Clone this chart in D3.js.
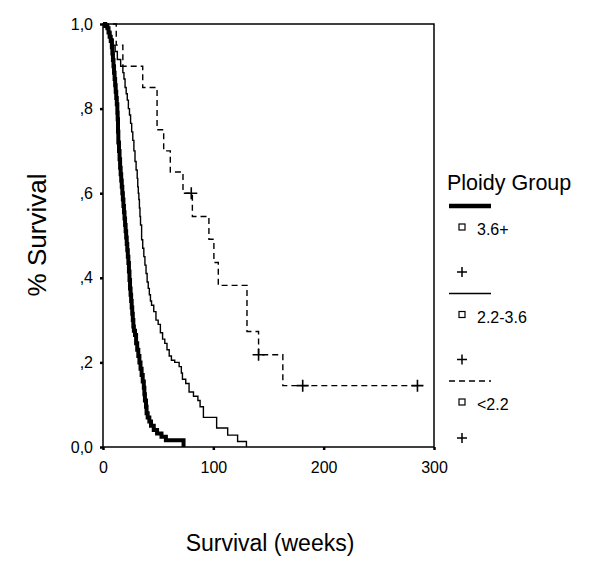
<!DOCTYPE html>
<html>
<head>
<meta charset="utf-8">
<script src="https://cdn.jsdelivr.net/npm/d3@7"></script>
<style>
  body { margin: 0; background: #fff; }
  svg { font-family: "Liberation Sans", Arial, sans-serif; }
</style>
</head>
<body>
<div id="vis"></div>
<script>
// Kaplan-Meier curves: step times (weeks) and survival after each step
const highTimes = [2, 4, 5, 6, 7, 8, 8.5, 9, 9.5, 10, 10.5, 11, 11.5, 12, 12.5, 13, 13.3, 13.6, 13.9, 14.5, 15, 15.5, 16, 16.5, 17, 17.5, 18, 18.5, 19, 19.5, 20, 20.5, 21, 21.5, 22, 22.5, 23, 23.5, 24, 24.5, 25, 25.5, 26, 26.5, 27, 27.5, 28, 29, 30, 31, 32, 33, 34, 35, 36, 37, 37.5, 38, 39, 39.5, 40.5, 42, 43.5, 46, 49, 53, 57, 73];
const highSurv  = [0.995, 0.99, 0.98, 0.97, 0.96, 0.945, 0.93, 0.915, 0.90, 0.885, 0.87, 0.855, 0.84, 0.825, 0.81, 0.79, 0.775, 0.745, 0.72, 0.70, 0.68, 0.66, 0.645, 0.63, 0.615, 0.60, 0.585, 0.57, 0.555, 0.54, 0.525, 0.51, 0.495, 0.48, 0.465, 0.45, 0.435, 0.415, 0.395, 0.375, 0.36, 0.345, 0.33, 0.315, 0.30, 0.285, 0.275, 0.265, 0.245, 0.23, 0.215, 0.20, 0.185, 0.17, 0.155, 0.14, 0.125, 0.11, 0.095, 0.08, 0.07, 0.06, 0.05, 0.04, 0.032, 0.024, 0.016, 0];

const midTimes = [3, 5, 7, 9, 11, 13, 16, 18, 19, 20, 21, 22, 23, 24, 25, 26, 27, 28, 29, 30, 31, 31.5, 32, 32.5, 33, 33.5, 34, 35, 36, 37, 38, 39, 40, 41, 42, 43, 44, 46, 48, 50, 52, 54, 56, 58, 60, 62, 65, 69, 71, 72, 75, 78, 82, 86, 88, 91, 103, 113, 122, 130];
const midSurv  = [0.99, 0.98, 0.965, 0.95, 0.935, 0.916, 0.90, 0.885, 0.87, 0.85, 0.835, 0.82, 0.80, 0.785, 0.765, 0.745, 0.725, 0.70, 0.675, 0.655, 0.635, 0.615, 0.60, 0.585, 0.565, 0.545, 0.525, 0.49, 0.47, 0.45, 0.43, 0.41, 0.39, 0.375, 0.36, 0.345, 0.335, 0.32, 0.30, 0.29, 0.27, 0.255, 0.245, 0.23, 0.215, 0.205, 0.20, 0.19, 0.175, 0.16, 0.15, 0.13, 0.12, 0.11, 0.095, 0.07, 0.045, 0.028, 0.013, 0];

const lowTimes = [12, 18, 36, 49, 55, 61, 72.5, 81, 96, 100.5, 104.5, 130.5, 141, 163, 285];
const lowSurv  = [0.95, 0.90, 0.85, 0.75, 0.70, 0.65, 0.60, 0.545, 0.491, 0.436, 0.382, 0.273, 0.218, 0.145, 0.145];
const lowCensorTimes = [80, 141, 181, 285];
const lowCensorSurv  = [0.60, 0.218, 0.145, 0.145];

const groupNames = ["3.6+", "2.2-3.6", "<2.2"];
const xTicks = [0, 100, 200, 300];
const yTicks = [0, 0.2, 0.4, 0.6, 0.8, 1.0];
const yTickLabels = ["0,0", ",2", ",4", ",6", ",8", "1,0"];

const FRAME_WIDTH = 600;
const FRAME_HEIGHT = 579;
const MARGINS = {left: 103, right: 166, top: 24, bottom: 132};
const VIS_WIDTH = FRAME_WIDTH - MARGINS.left - MARGINS.right;
const VIS_HEIGHT = FRAME_HEIGHT - MARGINS.top - MARGINS.bottom;

const svg = d3.select("#vis")
  .append("svg")
  .attr("width", FRAME_WIDTH)
  .attr("height", FRAME_HEIGHT);

const X_SCALE = d3.scaleLinear().domain([0, 300]).range([MARGINS.left, MARGINS.left + VIS_WIDTH]);
const Y_SCALE = d3.scaleLinear().domain([0, 1]).range([MARGINS.top + VIS_HEIGHT, MARGINS.top]);

// frame
svg.append("rect")
  .attr("x", MARGINS.left)
  .attr("y", MARGINS.top)
  .attr("width", VIS_WIDTH)
  .attr("height", VIS_HEIGHT)
  .attr("fill", "none")
  .attr("stroke", "#000")
  .attr("stroke-width", 1.5);

// axes
const xAxis = svg.append("g")
  .attr("transform", "translate(0," + (MARGINS.top + VIS_HEIGHT) + ")")
  .call(d3.axisBottom(X_SCALE).tickValues(xTicks).tickSize(3).tickPadding(12));
const yAxis = svg.append("g")
  .attr("transform", "translate(" + MARGINS.left + ",0)")
  .call(d3.axisLeft(Y_SCALE).tickValues(yTicks).tickSize(3).tickPadding(7)
    .tickFormat((d, i) => yTickLabels[i]));

[xAxis, yAxis].forEach(a => {
  a.select(".domain").remove();
  a.selectAll(".tick line").attr("stroke-width", 2.5);
  a.selectAll("text").attr("font-size", 16).attr("font-family", "Liberation Sans, Arial, sans-serif").attr("fill", "#000");
});

// curves
const stepLine = d3.line()
  .x(d => X_SCALE(d[0]))
  .y(d => Y_SCALE(d[1]))
  .curve(d3.curveStepAfter);

function points(times, surv) {
  return [[0, 1]].concat(times.map((t, i) => [t, surv[i]]));
}

svg.append("path")
  .attr("d", stepLine(points(lowTimes, lowSurv)))
  .attr("fill", "none")
  .attr("stroke", "#000")
  .attr("stroke-width", 1.4)
  .attr("stroke-dasharray", "6,4");

svg.append("path")
  .attr("d", stepLine(points(midTimes, midSurv)))
  .attr("fill", "none")
  .attr("stroke", "#000")
  .attr("stroke-width", 1.4);

svg.append("path")
  .attr("d", stepLine(points(highTimes, highSurv)))
  .attr("fill", "none")
  .attr("stroke", "#000")
  .attr("stroke-width", 4);

// censor marks
function plusPath(cx, cy, r) {
  return "M" + (cx - r) + "," + cy + "H" + (cx + r) + "M" + cx + "," + (cy - r) + "V" + (cy + r);
}
svg.selectAll("path.censor")
  .data(lowCensorTimes)
  .enter()
  .append("path")
  .attr("class", "censor")
  .attr("d", (d, i) => plusPath(X_SCALE(d), Y_SCALE(lowCensorSurv[i]), 6))
  .attr("stroke", "#000")
  .attr("stroke-width", 1.6);

// axis titles
svg.append("text")
  .attr("x", 270)
  .attr("y", 551)
  .attr("text-anchor", "middle")
  .attr("font-size", 23)
  .text("Survival (weeks)");

svg.append("text")
  .attr("transform", "translate(46,235) rotate(-90)")
  .attr("text-anchor", "middle")
  .attr("font-size", 26)
  .text("% Survival");

// legend
const LEG_X = 449;
svg.append("text")
  .attr("x", 447)
  .attr("y", 190)
  .attr("font-size", 21.5)
  .text("Ploidy Group");

const legendStyles = [
  {w: 4.5, dash: null, plusY: 66},
  {w: 1.4, dash: null, plusY: 66},
  {w: 1.4, dash: "6,4", plusY: 57}
];
const LEG_TOP = 206;
const LEG_STEP = 87.5;

const leg = svg.selectAll("g.leg")
  .data(groupNames)
  .enter()
  .append("g")
  .attr("class", "leg")
  .attr("transform", (d, i) => "translate(0," + (LEG_TOP + i * LEG_STEP) + ")");

leg.append("line")
  .attr("x1", LEG_X)
  .attr("x2", LEG_X + 42)
  .attr("y1", 0)
  .attr("y2", 0)
  .attr("stroke", "#000")
  .attr("stroke-width", (d, i) => legendStyles[i].w)
  .attr("stroke-dasharray", (d, i) => legendStyles[i].dash);

leg.append("rect")
  .attr("x", 459)
  .attr("y", 18)
  .attr("width", 6)
  .attr("height", 6)
  .attr("fill", "none")
  .attr("stroke", "#000")
  .attr("stroke-width", 1.2);

leg.append("text")
  .attr("x", 477)
  .attr("y", 29)
  .attr("font-size", 16)
  .text(d => d);

leg.append("path")
  .attr("d", (d, i) => plusPath(462, legendStyles[i].plusY, 5))
  .attr("stroke", "#000")
  .attr("stroke-width", 1.5);
</script>
</body>
</html>
